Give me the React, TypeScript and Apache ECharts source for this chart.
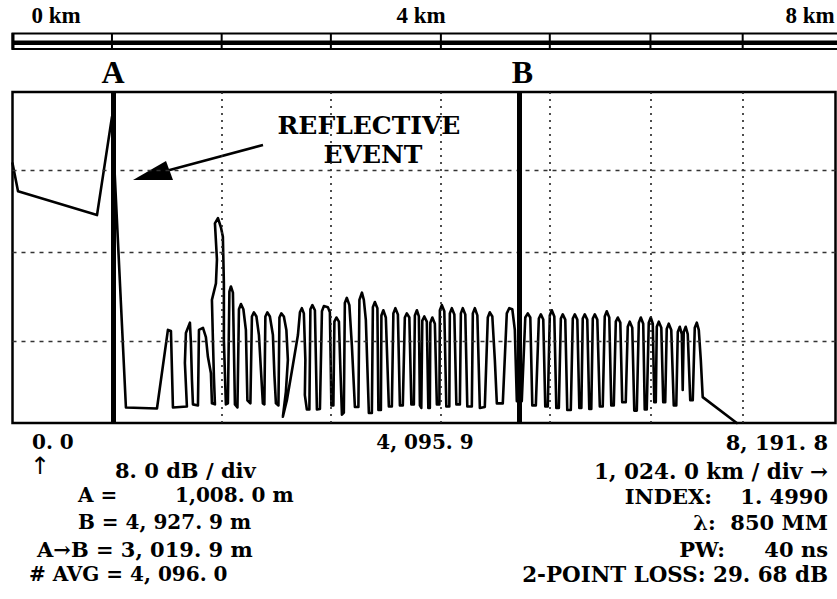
import React, { useEffect, useRef } from "react";
import * as echarts from "echarts";

// Trace window: distance (m) and level (dB, 4 divisions × 8 dB)
const distanceRange = [0, 8191.8];
const levelRange = [0, 32];

// OTDR trace: [distance m, level dB above the screen bottom]
const launchTrace: [number, number][] = [
  [0, 25.1], [55, 22.4], [841, 20.1], [990, 29.6], [1129, 1.5], [1438, 1.4],
  [1547, 9.0], [1577, 8.9], [1597, 1.5], [1736, 1.6], [1716, 5.8], [1726, 8.7],
  [1766, 9.7], [1776, 7.7], [1786, 4.2], [1796, 1.8], [1846, 1.7], [1856, 9.0],
  [1896, 9.2], [1925, 8.3], [1945, 6.4], [1975, 4.8], [1985, 1.9], [2015, 1.8],
  [2005, 4.4], [1995, 8.0], [1985, 11.9], [2025, 13.5], [2035, 15.8], [2015, 19.3],
  [2045, 19.8], [2075, 18.9], [2094, 18.0], [2104, 13.5], [2104, 8.0], [2124, 1.8],
  [2144, 1.9],
];
const noiseTraceNear: [number, number][] = [
  [2159, 12.7], [2174, 13.2], [2194, 12.6], [2214, 1.8], [2239, 1.5],
  [2254, 11.0], [2274, 11.5], [2298, 11.0], [2323, 9.0], [2338, 2.2], [2368, 1.9],
  [2383, 10.3], [2403, 10.7], [2428, 10.3], [2453, 8.5], [2473, 5.1], [2492, 1.9], [2507, 1.8],
  [2517, 10.3], [2537, 10.7], [2562, 10.3], [2592, 8.5], [2607, 4.6], [2622, 1.9], [2647, 1.7],
  [2657, 10.2], [2676, 10.6], [2701, 10.3], [2726, 9.0], [2741, 6.1], [2721, 3.0], [2691, 0.6],
  [2731, 2.2], [2791, 5.6], [2841, 8.5], [2861, 10.7], [2880, 11.1], [2900, 10.6], [2915, 6.1],
  [2910, 2.7], [2930, 1.3], [2955, 1.3],
  [2965, 11.0], [2985, 11.4], [3010, 10.9], [3030, 1.3], [3060, 1.35],
  [3080, 10.8], [3099, 11.3], [3139, 11.2], [3159, 10.7], [3174, 1.7], [3194, 1.7],
  [3204, 9.8], [3224, 10.2], [3249, 9.8], [3264, 5.1], [3279, 0.8], [3298, 1.0],
  [3308, 11.6], [3328, 12.1], [3353, 11.4], [3378, 7.5], [3408, 1.55], [3443, 1.55],
  [3453, 11.9], [3478, 12.6], [3497, 11.9], [3517, 9.96], [3547, 0.97], [3577, 0.97],
  [3587, 11.2], [3607, 11.7], [3632, 11.1], [3642, 1.26], [3667, 1.26],
  [3672, 10.4], [3691, 10.9], [3716, 10.2], [3746, 1.6], [3776, 1.6],
  [3791, 10.6], [3811, 11.1], [3836, 10.5], [3856, 1.7], [3885, 1.7],
  [3905, 10.2], [3925, 10.6], [3950, 10.2], [3970, 1.8], [3995, 1.8],
  [4005, 10.4], [4025, 10.9], [4045, 10.3], [4055, 1.7], [4069, 1.45],
  [4079, 9.9], [4099, 10.3], [4124, 9.8], [4139, 1.45], [4154, 1.45],
  [4159, 9.7], [4179, 10.2], [4204, 9.6], [4224, 1.8], [4249, 1.8],
  [4254, 10.9], [4273, 11.4], [4298, 10.8], [4318, 1.6], [4348, 1.6],
  [4353, 10.6], [4373, 11.1], [4398, 10.5], [4418, 1.8], [4453, 1.8],
  [4463, 10.6], [4482, 11.1], [4507, 10.5], [4527, 1.6], [4572, 1.6],
  [4582, 10.6], [4602, 11.1], [4627, 10.4], [4652, 1.45], [4701, 1.55],
  [4731, 10.2], [4751, 10.7], [4776, 10.3], [4801, 6.1], [4821, 1.9], [4880, 1.9],
];
const noiseTraceFar: [number, number][] = [
  [4920, 10.6], [4945, 11.1], [4975, 11.0], [5000, 9.0], [5020, 2.1], [5069, 2.1],
  [5104, 10.2], [5129, 10.6], [5154, 10.2], [5174, 1.7], [5209, 1.7],
  [5239, 10.1], [5259, 10.5], [5283, 10.0], [5303, 1.6], [5328, 1.6],
  [5348, 10.4], [5368, 10.9], [5393, 10.3], [5413, 1.45], [5438, 1.45],
  [5458, 10.1], [5477, 10.5], [5502, 10.0], [5522, 1.26], [5557, 1.26],
  [5577, 10.1], [5597, 10.5], [5622, 10.0], [5642, 1.45], [5662, 1.45],
  [5676, 10.1], [5696, 10.5], [5721, 10.0], [5741, 1.35], [5761, 1.35],
  [5776, 10.1], [5796, 10.5], [5821, 10.0], [5846, 1.6], [5875, 1.6],
  [5895, 10.3], [5915, 10.8], [5940, 10.2], [5960, 1.7], [5985, 1.7],
  [6005, 9.8], [6025, 10.2], [6050, 9.7], [6069, 2.0], [6104, 2.0],
  [6124, 9.3], [6144, 9.8], [6169, 9.2], [6189, 1.2], [6214, 1.2],
  [6234, 9.7], [6254, 10.2], [6278, 9.6], [6293, 1.3], [6313, 1.3],
  [6333, 9.7], [6353, 10.2], [6373, 9.6], [6388, 2.0], [6403, 2.0],
  [6413, 9.3], [6433, 9.8], [6458, 9.2], [6477, 2.0], [6497, 2.0],
  [6512, 9.1], [6532, 9.6], [6557, 9.0], [6582, 1.7], [6607, 1.7],
  [6622, 8.8], [6642, 9.3], [6662, 8.6], [6671, 3.2], [6681, 8.8], [6701, 9.3],
  [6721, 8.6], [6746, 2.2], [6771, 2.2],
  [6791, 9.2], [6811, 9.7], [6831, 9.0], [6851, 6.1], [6870, 2.5],
  [7209, 0.0],
];

// Dotted graticule positions (m) and dashed level lines (dB)
const gridDistances = [990, 2082, 3169, 4264, 5348, 6350, 7268];
const gridLevels = [7.9, 16.5, 24.4];

// Cursor positions as drawn on the screen (m)
const cursorA = 1000;
const cursorB = 5045;

// Texts
const scaleLabels = ["0 km", "4 km", "8 km"];
const cursorLabels = ["A", "B"];
const axisLabels = ["0. 0", "4, 095. 9", "8, 191. 8"];
const annotation = ["REFLECTIVE", "EVENT"];

export default function App() {
  const ref = useRef<HTMLDivElement>(null);

  useEffect(() => {
    const el = ref.current;
    if (!el) return;
    const chart = echarts.init(el, null, { renderer: "svg" });
    const trace = [...launchTrace, ...noiseTraceNear, ...noiseTraceFar];

    chart.setOption({
      animation: false,
      backgroundColor: "#ffffff",
      grid: {
        left: 12.5,
        top: 92,
        right: 1.5,
        bottom: 176,
        show: true,
        borderColor: "#000",
        borderWidth: 2.5,
        backgroundColor: "transparent",
      },
      xAxis: { type: "value", min: distanceRange[0], max: distanceRange[1], show: false },
      yAxis: { type: "value", min: levelRange[0], max: levelRange[1], show: false },
      series: [
        {
          type: "line",
          name: "graticule",
          data: [[distanceRange[0], levelRange[0]]],
          showSymbol: false,
          silent: true,
          lineStyle: { opacity: 0 },
          z: 1,
          markLine: {
            silent: true,
            symbol: ["none", "none"],
            label: { show: false },
            data: [
              ...gridDistances.map((v) => ({
                xAxis: v,
                lineStyle: { type: [2, 5], color: "#222", width: 1.6 },
              })),
              ...gridLevels.map((v) => ({
                yAxis: v,
                lineStyle: { type: [4, 5], color: "#333", width: 1.4 },
              })),
            ],
          },
        },
        {
          type: "line",
          name: "trace",
          data: trace,
          showSymbol: false,
          silent: true,
          clip: false,
          lineStyle: { color: "#000", width: 2.6, join: "round", cap: "round" },
          z: 3,
        },
        {
          type: "line",
          name: "cursors",
          data: [[distanceRange[0], levelRange[0]]],
          showSymbol: false,
          silent: true,
          lineStyle: { opacity: 0 },
          z: 4,
          markLine: {
            silent: true,
            symbol: ["none", "none"],
            label: { show: false },
            lineStyle: { type: "solid", color: "#000", width: 5 },
            data: [{ xAxis: cursorA }, { xAxis: cursorB }],
          },
        },
      ],
    });

    const toPx = (d: number, l: number) =>
      chart.convertToPixel({ gridIndex: 0 }, [d, l]) as number[];
    const tickPx = gridDistances.map((d) => toPx(d, 0)[0]);
    const aPx = toPx(cursorA, 0)[0];
    const bPx = toPx(cursorB, 0)[0];

    const serif = "'DejaVu Serif', 'Liberation Serif', serif";
    const times = "'Liberation Serif', 'Times New Roman', serif";
    const text = (
      t: string,
      x: number,
      y: number,
      align: string,
      size: number,
      family = serif,
      weight = "bold"
    ) => ({
      type: "text",
      x,
      y,
      silent: true,
      style: {
        text: t,
        fill: "#000",
        fontSize: size,
        fontWeight: weight,
        fontFamily: family,
        align,
        verticalAlign: "middle",
      },
    });

    const graphics: any[] = [
      // distance scale bar
      {
        type: "rect",
        silent: true,
        shape: { x: 12.5, y: 33.5, width: 830, height: 15.5 },
        style: { fill: "#fff", stroke: "#000", lineWidth: 2 },
      },
      {
        type: "rect",
        silent: true,
        shape: { x: 12.5, y: 40.5, width: 830, height: 4.5 },
        style: { fill: "#000" },
      },
      {
        type: "line",
        silent: true,
        shape: { x1: 13, y1: 33, x2: 13, y2: 49.5 },
        style: { stroke: "#000", lineWidth: 3 },
      },
      ...tickPx.map((x) => ({
        type: "line",
        silent: true,
        shape: { x1: x, y1: 33.5, x2: x, y2: 49 },
        style: { stroke: "#000", lineWidth: 2 },
      })),
      text(scaleLabels[0], 56, 15, "center", 23, times),
      text(scaleLabels[1], 421, 15, "center", 23, times),
      text(scaleLabels[2], 810, 15, "center", 23, times),
      text(cursorLabels[0], aPx, 72, "center", 32, times),
      text(cursorLabels[1], bPx + 3, 72, "center", 32, times),
      // reflective event annotation
      {
        type: "line",
        silent: true,
        shape: { x1: 263, y1: 145, x2: 166, y2: 171 },
        style: { stroke: "#000", lineWidth: 2.5 },
      },
      {
        type: "polygon",
        silent: true,
        shape: { points: [[133, 180], [166, 161], [173, 180]] },
        style: { fill: "#000" },
      },
      text(annotation[0], 369, 125, "center", 25),
      text(annotation[1], 373, 154, "center", 25),
      // axis end labels
      text(axisLabels[0], 32, 442, "left", 20),
      text(axisLabels[1], 425, 442, "center", 20),
      text(axisLabels[2], 828, 442, "right", 21),
      // left read-outs
      text("↑", 30, 466, "left", 24, "'DejaVu Sans', sans-serif", "normal"),
      text("8. 0 dB / div", 115, 470, "left", 21),
      text("A =", 78, 495, "left", 20),
      text("1,008. 0 m", 175, 495, "left", 20),
      text("B = 4, 927. 9 m", 78, 522, "left", 20),
      text("A→B = 3, 019. 9 m", 37, 549, "left", 21),
      text("# AVG = 4, 096. 0", 29, 574, "left", 20),
      // right read-outs
      text("1, 024. 0 km / div →", 828, 471, "right", 21.5),
      text("INDEX:", 712, 496, "right", 21),
      text("1. 4990", 828, 496, "right", 21),
      text("λ:  850 MM", 828, 522, "right", 21),
      text("PW:", 725, 549, "right", 21),
      text("40 ns", 828, 549, "right", 21),
      text("2-POINT LOSS: 29. 68 dB", 828, 574, "right", 21.4),
    ];

    chart.setOption({ graphic: graphics });

    return () => chart.dispose();
  }, []);

  return (
    <div
      ref={ref}
      style={{ position: "fixed", left: 0, top: 0, width: 837, height: 599, background: "#fff" }}
    />
  );
}
